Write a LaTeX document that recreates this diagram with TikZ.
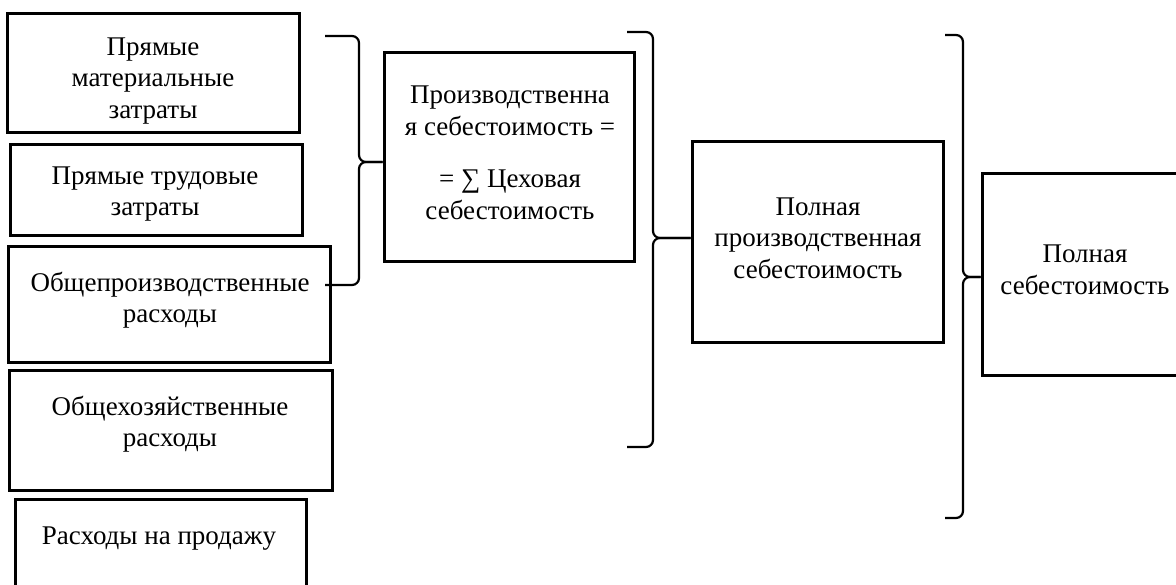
\documentclass[tikz,border=0pt]{standalone}
\usepackage{fontspec}
\setmainfont{Liberation Serif}
\begin{document}
\begin{tikzpicture}[x=1pt,y=-1pt,
  box/.style={draw, line width=3pt, inner sep=0pt},
  txt/.style={align=center, inner sep=0pt, font=\fontsize{27}{31.5}\selectfont},
  brace/.style={draw, line width=2.2pt, rounded corners=7pt}]
\useasboundingbox (0,0) rectangle (1176,585);
% boxes
\node[box, minimum width=292pt, minimum height=119pt] (b1) at (153,73.5) {};
\node[box, minimum width=292pt, minimum height=91pt]  (b2) at (156,190.5) {};
\node[box, minimum width=322pt, minimum height=116pt] (b3) at (169,305) {};
\node[box, minimum width=323pt, minimum height=119pt] (b4) at (170.5,430.5) {};
\node[box, minimum width=291pt, minimum height=96pt]  (b5) at (160.5,547) {};
\node[box, minimum width=250pt, minimum height=209pt] (b6) at (509,157.5) {};
\node[box, minimum width=251pt, minimum height=201pt] (b7) at (817.5,242.5) {};
\node[box, minimum width=208pt, minimum height=202pt] (b8) at (1086,275) {};
% texts
\node[txt] (t1) at (153,81) {Прямые\\материальные\\затраты};
\node[txt] (t2) at (155,194) {Прямые трудовые\\затраты};
\node[txt] (t3) at (170,300) {Общепроизводственные\\расходы};
\node[txt] (t4) at (170,424) {Общехозяйственные\\расходы};
\node[txt] (t5) at (159,539) {Расходы на продажу};
\node[txt] (t6) at (510,153) {Производственна\\я себестоимость =\\[21pt]= ∑ Цеховая\\себестоимость};
\node[txt] (t7) at (818,238) {Полная\\производственная\\себестоимость};
\node[txt] (t8) at (1085,270) {Полная\\себестоимость};
% brace 1
\coordinate (a1) at (325,36);
\coordinate (a2) at (325,285);
\coordinate (m1) at (359,162);
\draw[brace] (a1) -- (a1 -| m1) -- (m1) -- (m1 -| b6.west);
\draw[brace] (a2) -- (a2 -| m1) -- (m1) -- (m1 -| b6.west);
% brace 2
\coordinate (c1) at (627,32);
\coordinate (c2) at (627,447);
\coordinate (m2) at (653,238);
\draw[brace] (c1) -- (c1 -| m2) -- (m2) -- (m2 -| b7.west);
\draw[brace] (c2) -- (c2 -| m2) -- (m2) -- (m2 -| b7.west);
% brace 3
\coordinate (d1) at (945,35);
\coordinate (d2) at (945,518);
\coordinate (m3) at (963,277);
\draw[brace] (d1) -- (d1 -| m3) -- (m3) -- (m3 -| b8.west);
\draw[brace] (d2) -- (d2 -| m3) -- (m3) -- (m3 -| b8.west);
\end{tikzpicture}
\end{document}
